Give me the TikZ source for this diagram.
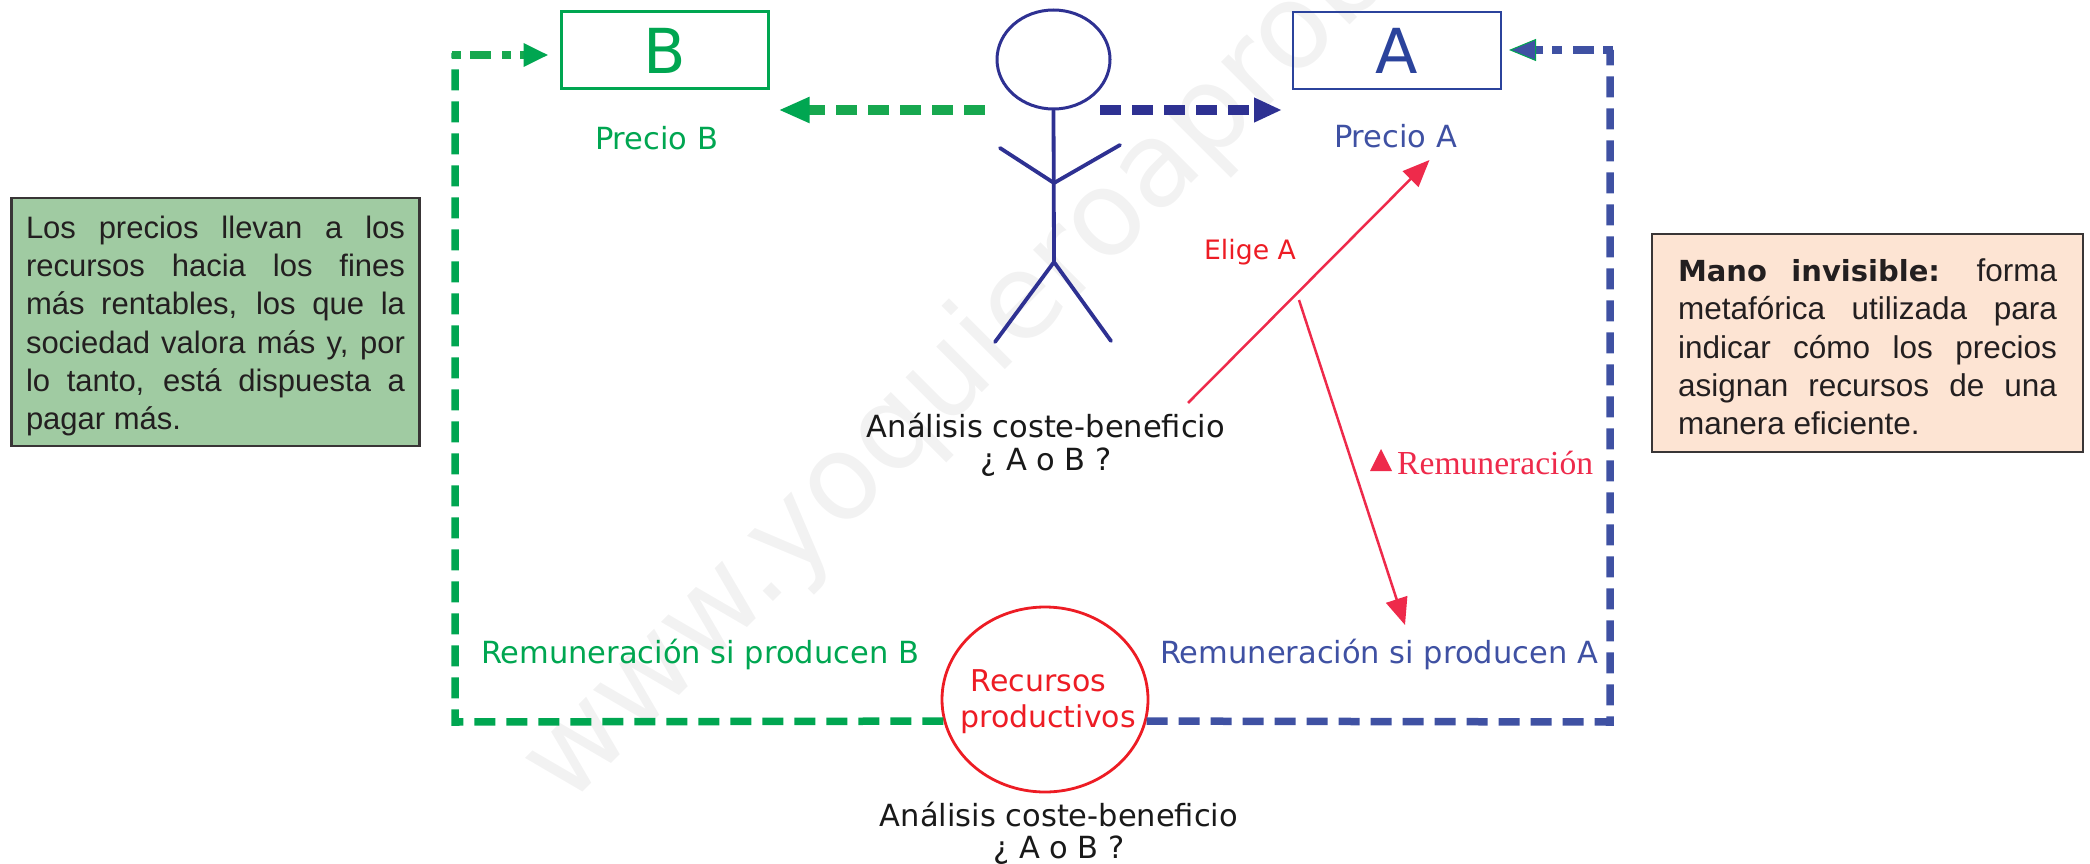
\documentclass[tikz,border=0pt]{standalone}
\usepackage{fontspec}
\usetikzlibrary{arrows.meta,shapes.geometric,calc}
\setmainfont{DejaVu Sans}
\newfontfamily\arialf{Liberation Sans}
\newfontfamily\timesf{Liberation Serif}
\newfontfamily\dejabold{DejaVu Sans Bold}
\definecolor{cgreen}{HTML}{00A651}
\definecolor{cgreenb}{HTML}{17A84F}
\definecolor{cblue}{HTML}{2E3192}
\definecolor{cboxa}{HTML}{2B439C}
\definecolor{croute}{HTML}{3F51A3}
\definecolor{cred}{HTML}{ED1C24}
\definecolor{cpink}{HTML}{EE2A4B}
\definecolor{cink}{HTML}{231F20}
\definecolor{cgbox}{HTML}{A0CBA2}
\definecolor{cobox}{HTML}{FDE4D3}
\newcommand{\fs}[1]{\fontsize{#1}{#1}\selectfont}
\newcommand{\jl}[1]{\makebox[379pt][s]{#1}}
\newcommand{\para}[1]{\parbox{379pt}{\baselineskip=38.3pt\lineskiplimit=-20pt\vspace*{8pt}\noindent #1\par}}
\tikzset{
  x=1pt,y=-1pt,
  lab/.style={inner sep=0pt,align=center,font=\fs{30.5}},
  letterbox/.style={draw,line width=3pt,minimum width=207pt,minimum height=77pt,inner sep=0pt,font=\fs{62}},
  routedash/.style={line width=7.5pt,dash pattern=on 21pt off 11pt},
  bigdash/.style={line width=10.5pt,dash pattern=on 21pt off 11pt},
  stick/.style={cblue,line width=3.8pt,line cap=round},
  textbox/.style={draw=cink!90,line width=2.8pt,inner sep=0pt,text=cink},
  redarrow/.style={cpink,line width=2.5pt,-{Triangle[length=27pt,width=22pt]}}
}
\begin{document}
\begin{tikzpicture}
\useasboundingbox (0,0) rectangle (2090,864);
\clip (0,0) rectangle (2090,864);
\node[rotate=45,text=black!5,inner sep=0pt,anchor=base west,font=\fs{118}] (wm) at (567,808) {www.yoquieroaprobar.es};

% boxes
\node[letterbox,draw=cgreen,text=cgreen] (B) at (664.5,50.5) {B};
\node[letterbox,draw=cboxa,text=cboxa,line width=2.6pt,minimum width=208pt] (A) at (1397,50.5) {A};
\node[lab,text=cgreen] (pB) at (656.5,138) {Precio B};
\node[lab,text=croute] (pA) at (1395.5,136) {Precio A};

% person
\node[draw=cblue,ellipse,line width=3pt,minimum width=113pt,minimum height=99pt,inner sep=0pt] (head) at (1053.5,59.5) {};
\coordinate (hip) at (1054,262);
\coordinate (chest) at (1054,183);
\coordinate (handL) at (1000,148);
\coordinate (handR) at (1120,145);
\coordinate (footL) at (995,342);
\coordinate (footR) at (1111,341);
\draw[stick] (head.south) -- (hip);
\draw[stick] (handL) -- (chest) -- (handR);
\draw[stick] (footL) -- (hip) -- (footR);

% price arrows
\coordinate (gs) at (985,110);
\coordinate (gt) at (778.5,110);
\coordinate (bs) at (1100,110);
\coordinate (bt) at (1282,110);
\draw[bigdash,cgreenb,-{Triangle[length=31pt,width=24pt,color=cgreen]}] (gs) -- (gt);
\draw[bigdash,cblue,-{Triangle[length=28pt,width=23pt]}] (bs) -- (bt);

% routes
\coordinate (cBb) at (455,722);
\coordinate (cBt) at (455,55);
\coordinate (tB) at (548.5,55);
\coordinate (cAb) at (1610,722);
\coordinate (cAt) at (1610,50);
\coordinate (tA) at (1509,50);
\node[draw=cred,ellipse,line width=2.8pt,minimum width=206pt,minimum height=185pt,inner sep=0pt] (R) at (1045,699.5) {};
\draw[routedash,cgreen] (R.192.6) -- (cBb) -- (455,53);
\draw[routedash,cgreenb,-{Triangle[length=25pt,width=22pt,color=cgreen]},dash pattern=on 9pt off 9pt on 21pt off 11pt] (452,55) -- (tB);
\draw[routedash,croute] (R.-12.6) -- (cAb) -- (1610,50);
\draw[routedash,croute,-{Triangle[length=27pt,width=22pt,fill=croute,color=cgreen,line width=1pt]},dash pattern=on 10pt off 9pt on 21pt off 11pt] (1613,50) -- (tA);
\node[lab,text=cred,font=\fs{30}] (Rt) at (1048,701.5) {\hspace*{-19pt}Recursos\\[6.5pt]productivos};

% labels
\node[lab,text=cgreen] (rB) at (700,654) {Remuneración si producen B};
\node[lab,text=croute] (rA) at (1379,654) {Remuneración si producen A};
\node[lab,text=black!90] (an1) at (1046,445) {Análisis coste-beneficio\\[2pt]¿ A o B ?};
\node[lab,text=black!90] (an2) at (1059,833.5) {Análisis coste-beneficio\\[2pt]¿ A o B ?};
\node[lab,text=cred,font=\fs{26.7}] (el) at (1250,252) {Elige A};

% red arrows
\coordinate (ra1) at (1188,403);
\coordinate (ra2) at (1429.5,160);
\coordinate (rb1) at (1299,300);
\coordinate (rb2) at (1405,625);
\draw[redarrow] (ra1) -- (ra2);
\draw[redarrow] (rb1) -- (rb2);
\node[lab,text=cpink,font=\timesf\fs{33.6},anchor=west] (rem) at (1397,463) {Remuneración};
\fill[cpink] (1370,471) -- (1392,471) -- (1381,449) -- cycle;

% text boxes
\node[textbox,fill=cgbox,font=\arialf\fs{31},minimum width=408pt,minimum height=248pt] (left) at (215.5,322) {\para{%
  \jl{Los precios llevan a los}\\
  \jl{recursos hacia los fines}\\
  \jl{más rentables, los que la}\\
  \jl{sociedad valora más y, por}\\
  \jl{lo tanto, está dispuesta a}\\
  pagar más.}};
\node[textbox,fill=cobox,font=\arialf\fs{31.5},minimum width=431pt,minimum height=218pt] (right) at (1867.5,343) {\para{%
  \jl{{\dejabold\fs{29}Mano invisible:} forma}\\
  \jl{metafórica utilizada para}\\
  \jl{indicar cómo los precios}\\
  \jl{asignan recursos de una}\\
  manera eficiente.}};
\end{tikzpicture}
\end{document}
